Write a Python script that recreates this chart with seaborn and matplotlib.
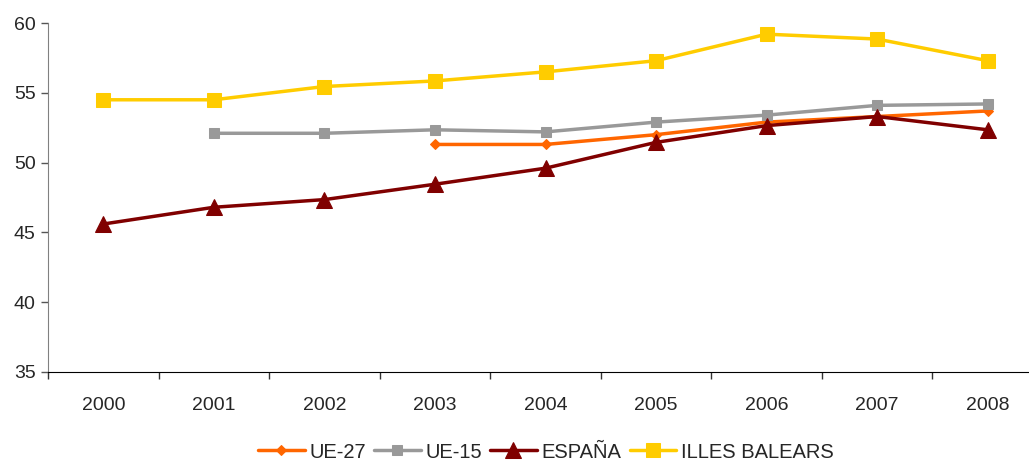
import numpy as np
import pandas as pd
import matplotlib
matplotlib.use('Agg')
import matplotlib.pyplot as plt
import seaborn as sns

years = ['2000', '2001', '2002', '2003', '2004', '2005', '2006', '2007', '2008']
ue27 = [np.nan, np.nan, np.nan, 51.3, 51.3, 52.0, 52.9, 53.3, 53.7]
ue15 = [np.nan, 52.1, 52.1, 52.35, 52.2, 52.9, 53.4, 54.1, 54.2]
espana = [45.6, 46.8, 47.35, 48.45, 49.6, 51.45, 52.65, 53.3, 52.35]
baleares = [54.5, 54.5, 55.45, 55.85, 56.5, 57.3, 59.2, 58.85, 57.3]

series = ['UE-27', 'UE-15', 'ESPAÑA', 'ILLES BALEARS']
colors = {'UE-27': '#FF6600', 'UE-15': '#999999', 'ESPAÑA': '#800000', 'ILLES BALEARS': '#FFCC00'}
markers = {'UE-27': 'D', 'UE-15': 's', 'ESPAÑA': '^', 'ILLES BALEARS': 's'}
msizes = {'UE-27': 5, 'UE-15': 6.5, 'ESPAÑA': 11, 'ILLES BALEARS': 10}

df = pd.DataFrame({'pos': list(range(len(years))) * 4,
                   'serie': [s for s in series for _ in years],
                   'valor': ue27 + ue15 + espana + baleares})

sns.set_style('white')
plt.rcParams['font.family'] = ['Liberation Sans', 'DejaVu Sans']

fig = plt.figure(figsize=(10.29, 4.62), dpi=100)
ax = fig.add_axes([48 / 1029, 1 - 372 / 462, 995 / 1029, 349 / 462])

for s in series:
    sub = df[df['serie'] == s].dropna()
    sns.lineplot(data=sub, x='pos', y='valor', color=colors[s], marker=markers[s],
                 markersize=msizes[s], markeredgecolor=colors[s], linewidth=2.5,
                 label=s, ax=ax)

ax.set_xlim(-0.5, 8.5)
ax.set_ylim(35, 60)
ax.set_yticks([35, 40, 45, 50, 55, 60])
ax.set_xticks(range(len(years)))
ax.set_xticklabels(years)
ax.set_xticks(np.arange(-0.5, 9, 1), minor=True)
ax.tick_params(axis='x', which='major', bottom=False, length=0, pad=18, labelsize=14)
ax.tick_params(axis='x', which='minor', bottom=True, length=5, width=1,
               direction='out', color='#333333')
ax.tick_params(axis='y', left=True, length=5, width=1, direction='out',
               labelsize=14, pad=4, color='#555555')
ax.set_xlabel(None)
ax.set_ylabel(None)
for side in ['top', 'right']:
    ax.spines[side].set_visible(False)
ax.spines['left'].set_color('#808080')
ax.spines['bottom'].set_color('#000000')

leg = ax.legend(loc='center', bbox_to_anchor=(498 / 995, -80 / 349), ncol=4, frameon=False,
                fontsize=14.5, handlelength=2.3, handletextpad=0.25, columnspacing=0.4,
                borderpad=0, borderaxespad=0)

fig.savefig('out.png', dpi=100)
